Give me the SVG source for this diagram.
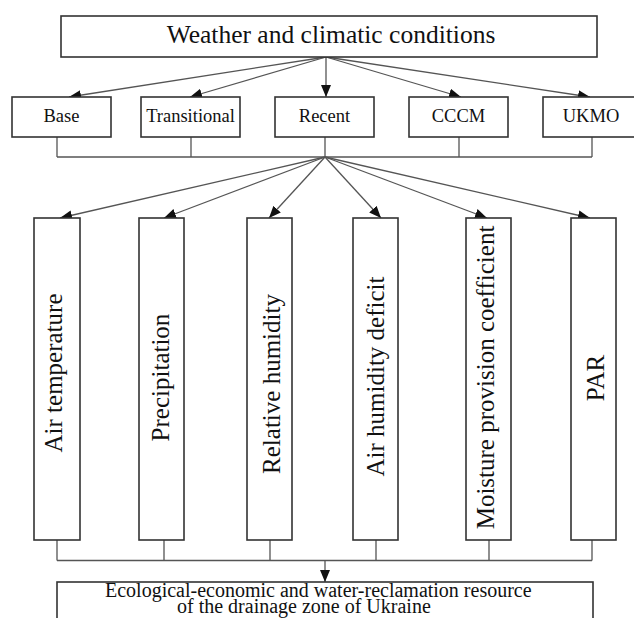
<svg xmlns="http://www.w3.org/2000/svg" width="634" height="618" viewBox="0 0 634 618">
<defs>
<marker id="ah" markerWidth="12" markerHeight="10" refX="12" refY="5" orient="auto" markerUnits="userSpaceOnUse">
<path d="M0,0 L12,5 L0,10 z" fill="#111"/>
</marker>
<style>
.box{fill:#fff;stroke:#333;stroke-width:1.6}
.t{font-family:"Liberation Serif","Times New Roman",serif;fill:#111}
.s18{font-size:18.5px;text-anchor:middle}
.col{font-size:25px;text-anchor:middle}
.conn{stroke:#555;stroke-width:1.3;fill:none}
.arr{marker-end:url(#ah)}
</style>
</defs>
<rect width="634" height="618" fill="#fff"/>
<g id="connectors">
<line class="conn arr" x1="326" y1="57" x2="69" y2="97"/>
<line class="conn arr" x1="326" y1="57" x2="190" y2="97"/>
<line class="conn arr" x1="326" y1="57" x2="326" y2="97"/>
<line class="conn arr" x1="326" y1="57" x2="461" y2="97"/>
<line class="conn arr" x1="326" y1="57" x2="590" y2="97"/>
<path class="conn" d="M57,137V157M191,137V157M325,137V157M459,137V157M592,137V157M57,157H592"/>
<line class="conn arr" x1="325" y1="157" x2="60" y2="218"/>
<line class="conn arr" x1="325" y1="157" x2="164" y2="218"/>
<line class="conn arr" x1="325" y1="157" x2="269" y2="218"/>
<line class="conn arr" x1="325" y1="157" x2="381" y2="218"/>
<line class="conn arr" x1="325" y1="157" x2="487" y2="218"/>
<line class="conn arr" x1="325" y1="157" x2="590" y2="218"/>
<path class="conn" d="M57,540V560.5M164,540V560.5M270,540V560.5M376,540V560.5M489,540V560.5M592,540V560.5M57,560.5H592"/>
<line class="conn arr" x1="325" y1="560.5" x2="325" y2="582"/>
</g>
<g id="weather">
<rect class="box" x="61" y="16" width="536" height="41"/>
<text class="t" x="331" y="43" font-size="25.5" text-anchor="middle">Weather and climatic conditions</text>
</g>
<g id="base">
<rect class="box" x="12" y="97" width="99" height="40"/>
<text class="t s18" x="61.5" y="122">Base</text>
</g>
<g id="transitional">
<rect class="box" x="141" y="97" width="99" height="40"/>
<text class="t s18" x="190.5" y="122">Transitional</text>
</g>
<g id="recent">
<rect class="box" x="275" y="97" width="99" height="40"/>
<text class="t s18" x="324.5" y="122">Recent</text>
</g>
<g id="cccm">
<rect class="box" x="409" y="97" width="99" height="40"/>
<text class="t s18" x="458.5" y="122">CCCM</text>
</g>
<g id="ukmo">
<rect class="box" x="543" y="97" width="99" height="40"/>
<text class="t s18" x="591" y="122">UKMO</text>
</g>
<g id="air-temperature">
<rect class="box" x="34" y="218" width="46" height="322"/>
<text class="t col" transform="translate(62,373) rotate(-90)">Air temperature</text>
</g>
<g id="precipitation">
<rect class="box" x="139" y="218" width="45" height="322"/>
<text class="t col" transform="translate(168.5,377.5) rotate(-90)">Precipitation</text>
</g>
<g id="relative-humidity">
<rect class="box" x="247" y="218" width="45" height="322"/>
<text class="t col" transform="translate(280,384) rotate(-90)">Relative humidity</text>
</g>
<g id="air-humidity-deficit">
<rect class="box" x="353" y="218" width="45" height="322"/>
<text class="t col" transform="translate(384,376.5) rotate(-90)">Air humidity deficit</text>
</g>
<g id="moisture-provision">
<rect class="box" x="466" y="218" width="45" height="322"/>
<text class="t col" transform="translate(494,377.5) rotate(-90)">Moisture provision coefficient</text>
</g>
<g id="par">
<rect class="box" x="571" y="218" width="45" height="322"/>
<text class="t col" transform="translate(604,378) rotate(-90)">PAR</text>
</g>
<g id="resource">
<rect class="box" x="57" y="582" width="536" height="50"/>
<text class="t" font-size="20"><tspan x="105" y="597">Ecological-economic and water-reclamation resource</tspan><tspan x="177" y="613">of the drainage zone of Ukraine</tspan></text>
</g>
</svg>
